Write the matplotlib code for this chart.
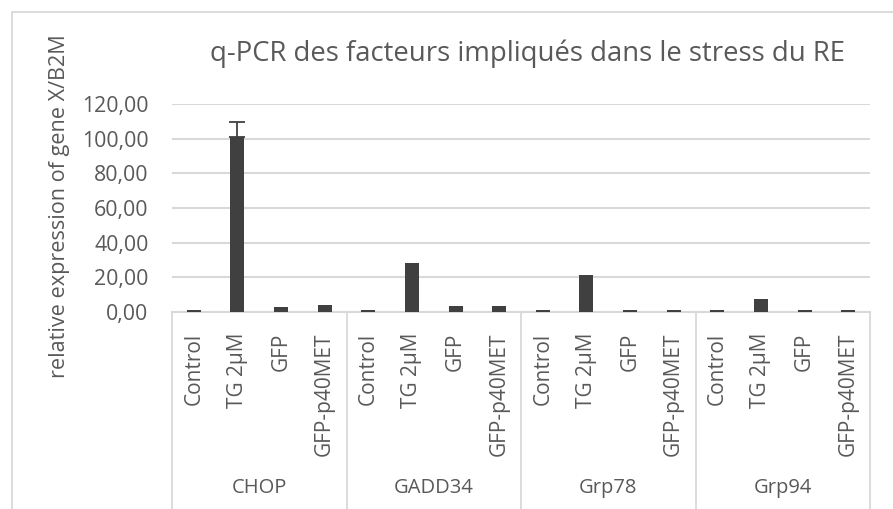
import matplotlib
matplotlib.use("Agg")
import matplotlib.pyplot as plt
from matplotlib.patches import Rectangle
from matplotlib.ticker import FixedLocator, FuncFormatter

plt.rcParams['font.family'] = ['Open Sans', 'DejaVu Sans']

genes = ["CHOP", "GADD34", "Grp78", "Grp94"]
conditions = ["Control", "TG 2\u00b5M", "GFP", "GFP-p40MET"]
values = {
    "CHOP":   [1.0, 101.3, 2.9, 3.6],
    "GADD34": [1.0, 28.0, 3.5, 3.4],
    "Grp78":  [1.0, 21.2, 1.2, 1.2],
    "Grp94":  [1.0, 7.2, 0.8, 0.8],
}
errors = {
    "CHOP":   [0.0, 8.3, 0.0, 0.0],
    "GADD34": [0.0, 0.0, 0.0, 0.0],
    "Grp78":  [0.0, 0.0, 0.0, 0.0],
    "Grp94":  [0.0, 0.0, 0.0, 0.0],
}
yticks = [0, 20, 40, 60, 80, 100, 120]

W, H = 893, 509
fig = plt.figure(figsize=(W / 100, H / 100), dpi=100)
fig.patch.set_facecolor("white")

# chart-area border
fig.patches.append(Rectangle((12 / W, -0.05), 1.0, 1 - 12 / H + 0.05,
                             transform=fig.transFigure, fill=False,
                             edgecolor="#d9d9d9", linewidth=1.3))

left, right = 172 / W, 870 / W
bottom, top = 1 - 311.7 / H, 1 - 104.3 / H
ax = fig.add_axes([left, bottom, right - left, top - bottom])

bar_color = "#404040"
text_color = "#595959"
grid_color = "#d9d9d9"

n_cond = len(conditions)
xs, heights, errs, labels = [], [], [], []
for g, gene in enumerate(genes):
    for c, cond in enumerate(conditions):
        xs.append(g * n_cond + c + 0.5)
        heights.append(values[gene][c])
        errs.append(errors[gene][c])
        labels.append(cond)

ax.bar(xs, heights, width=0.32, color=bar_color, zorder=3)
ex = [x for x, e in zip(xs, errs) if e > 0]
ey = [h for h, e in zip(heights, errs) if e > 0]
ee = [e for e in errs if e > 0]
ax.errorbar(ex, ey, yerr=[[0] * len(ee), ee], fmt="none", ecolor=bar_color,
            elinewidth=1.3, capsize=6, capthick=1.3, zorder=4)

ax.set_xlim(0, len(xs))
ax.set_ylim(0, 120)
ax.yaxis.set_major_locator(FixedLocator(yticks))
ax.yaxis.set_major_formatter(FuncFormatter(lambda v, p: f"{v:.2f}".replace(".", ",")))
ax.grid(axis="y", color=grid_color, linewidth=1.5, zorder=0)
ax.tick_params(axis="y", length=0, labelsize=15.3, labelcolor=text_color, pad=17)
ax.tick_params(axis="x", length=0, labelsize=15, labelcolor=text_color, pad=15)
ax.set_xticks(xs)
ax.set_xticklabels(labels, rotation=90, va="top")

for s in ["left", "right", "top"]:
    ax.spines[s].set_visible(False)
ax.spines["bottom"].set_color(grid_color)
ax.spines["bottom"].set_linewidth(1.5)

# group separators and gene names below the axis
trans = ax.get_xaxis_transform()
for g in range(len(genes) + 1):
    ax.plot([g * n_cond, g * n_cond], [0, -1.1], transform=trans,
            color=grid_color, linewidth=1.3, clip_on=False, zorder=1)
for g, gene in enumerate(genes):
    ax.text(g * n_cond + n_cond / 2, -(488 - 311.7) / 207.4, gene,
            transform=trans, ha="center", va="center",
            fontsize=14.5, color=text_color)

fig.text(60 / W, 1 - 206 / H, "relative expression of gene X/B2M",
         rotation=90, ha="center", va="center", fontsize=15.6, color=text_color)
fig.text(527 / W, 1 - 54 / H, "q-PCR des facteurs impliqu\u00e9s dans le stress du RE",
         ha="center", va="center", fontsize=19.8, color=text_color)

fig.savefig("out.png", dpi=100, facecolor="white")
